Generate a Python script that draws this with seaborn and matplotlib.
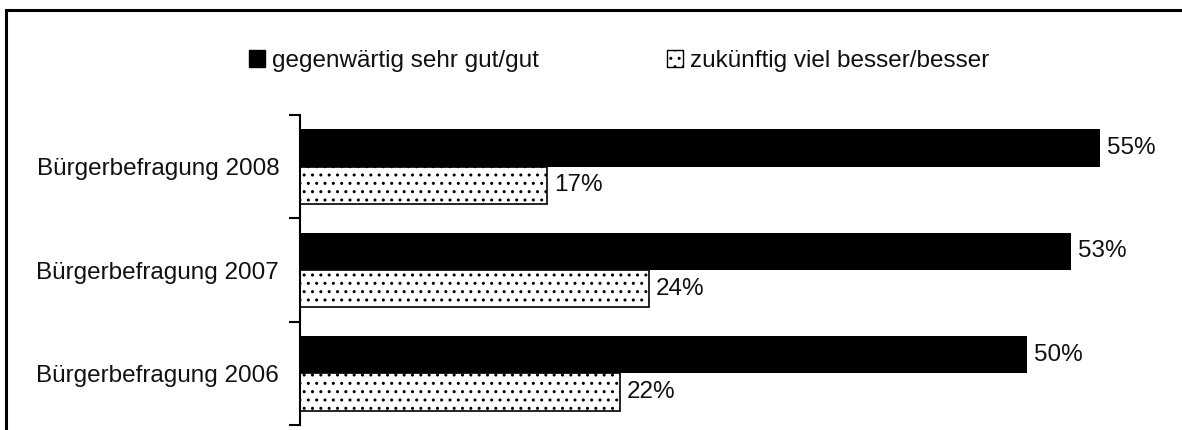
import matplotlib
matplotlib.use("Agg")
import matplotlib.pyplot as plt
import seaborn as sns
import pandas as pd
from matplotlib.patches import Rectangle, Patch

categories = ["Bürgerbefragung 2008", "Bürgerbefragung 2007", "Bürgerbefragung 2006"]
series_names = ["gegenwärtig sehr gut/gut", "zukünftig viel besser/besser"]
current_good = [55, 53, 50]
future_better = [17, 24, 22]

sns.set_theme(style="white")
plt.rcParams['font.family'] = ['Liberation Sans', 'DejaVu Sans']
plt.rcParams['hatch.linewidth'] = 1.0
plt.rcParams['hatch.color'] = '#666666'

df = pd.DataFrame({
    "Kategorie": categories * 2,
    "Serie": [series_names[0]] * 3 + [series_names[1]] * 3,
    "Wert": current_good + future_better,
})

fig = plt.figure(figsize=(11.82, 4.30), dpi=100)
ax = fig.add_axes([300/1182, 1 - 425/430, 880/1182, (425 - 115)/430])

sns.barplot(data=df, y="Kategorie", x="Wert", hue="Serie", order=categories,
            hue_order=series_names, palette=["black", "white"], orient="h",
            width=0.72, ax=ax, legend=False, saturation=1)

bars0, bars1 = ax.containers[0], ax.containers[1]
for p in bars0:
    p.set_edgecolor("black")
    p.set_linewidth(0)
for p in bars1:
    p.set_facecolor("white")
    p.set_edgecolor("black")
    p.set_hatch("..")
    p.set_linewidth(1.2)

for c in ax.containers:
    ax.bar_label(c, fmt="%d%%", padding=5, fontsize=17.5, color="#111111")

ax.set_xlim(0, 60.5)
ax.set_ylim(2.5, -0.5)
ax.set_xlabel("")
ax.set_ylabel("")
ax.set_xticks([])
for s in ["top", "right", "bottom"]:
    ax.spines[s].set_visible(False)
ax.spines["left"].set_color("black")
ax.spines["left"].set_linewidth(1.5)
ax.set_yticks(range(len(categories)))
ax.set_yticklabels(categories, fontsize=17.5, color="#111111")
ax.set_yticks([-0.5, 0.5, 1.5, 2.5], minor=True)
ax.tick_params(axis="y", which="major", length=0, pad=15)
ax.tick_params(axis="y", which="minor", length=8, width=1.5, color="black", left=True, direction="out")

handles = [Patch(facecolor="black", edgecolor="black"),
           Patch(facecolor="white", edgecolor="black", hatch="..")]
leg = fig.legend(handles, series_names, loc="center", bbox_to_anchor=(619/1182, 1 - 61/430),
                 ncol=2, frameon=False, fontsize=17.5, handlelength=0.65, handleheight=0.65,
                 handletextpad=0.3, columnspacing=5.27)
for t in leg.get_texts():
    t.set_color("#111111")

fig.patches.append(Rectangle((6/1182, -0.1), 1.2, 1 - 10/430 + 0.1, transform=fig.transFigure,
                             fill=False, edgecolor="black", linewidth=2.2))

fig.savefig("out.png", dpi=100)
